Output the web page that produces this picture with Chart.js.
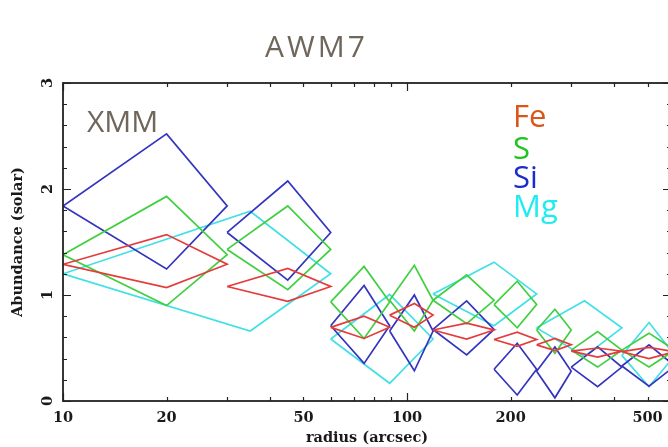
<!DOCTYPE html>
<html>
<head>
<meta charset="utf-8">
<title>AWM7 abundance profiles</title>
<script src="https://cdn.jsdelivr.net/npm/chart.js@4/dist/chart.umd.min.js"></script>
<style>
  html, body { margin: 0; padding: 0; background: #ffffff; overflow: hidden; }
  #wrap { width: 700px; height: 447px; }
</style>
</head>
<body>
<div id="wrap"><canvas id="chart" width="700" height="447"></canvas></div>
<script>
// Radial bins (arcsec) shared by Fe, S and Si
const binLo  = [10, 30, 60, 89, 119, 179, 238, 300, 421];
const binMid = [20, 45, 75, 105, 149, 209, 269, 358, 505];
const binHi  = [30, 60, 89, 119, 179, 238, 300, 421, 600];

// Abundances (solar) with lower / upper bounds
const feVal = [1.29, 1.08, 0.695, 0.81, 0.67, 0.58, 0.53, 0.47, 0.465];
const feLo  = [1.07, 0.94, 0.59, 0.695, 0.585, 0.515, 0.475, 0.415, 0.40];
const feHi  = [1.57, 1.25, 0.80, 0.92, 0.735, 0.65, 0.59, 0.50, 0.505];

const sVal = [1.38, 1.43, 0.935, 0.95, 0.95, 0.91, 0.67, 0.48, 0.48];
const sLo  = [0.90, 1.05, 0.59, 0.66, 0.73, 0.69, 0.45, 0.32, 0.32];
const sHi  = [1.93, 1.84, 1.27, 1.28, 1.19, 1.13, 0.865, 0.655, 0.64];

const siVal = [1.84, 1.59, 0.71, 0.66, 0.675, 0.30, 0.28, 0.32, 0.33];
const siLo  = [1.245, 1.14, 0.355, 0.285, 0.435, 0.057, 0.03, 0.135, 0.14];
const siHi  = [2.52, 2.075, 1.09, 1.0, 0.945, 0.545, 0.51, 0.51, 0.53];

// Mg uses wider bins
const mgBinLo  = [10, 60, 119, 238, 421];
const mgBinMid = [35, 89, 179, 328, 505];
const mgBinHi  = [60, 119, 238, 421, 600];
const mgVal = [1.20, 0.585, 1.01, 0.69, 0.43];
const mgLo  = [0.66, 0.167, 0.71, 0.42, 0.135];
const mgHi  = [1.79, 1.005, 1.31, 0.945, 0.74];

// Axis labelling
const xTickLabels = [10, 20, 50, 100, 200, 500];
const yTickLabels = [0, 1, 2, 3];
const legendNames = ['Fe', 'S', 'Si', 'Mg'];

// Each measurement is drawn as a diamond: (lo,x)-(mid,hi)-(hi,x)-(mid,lo)-(lo,x),
// consecutive diamonds separated by a null point so the line breaks.
function diamonds(lo, mid, hi, val, vLo, vHi) {
  const pts = [];
  for (let i = 0; i < val.length; i++) {
    pts.push({ x: lo[i],  y: val[i] });
    pts.push({ x: mid[i], y: vHi[i] });
    pts.push({ x: hi[i],  y: val[i] });
    pts.push({ x: mid[i], y: vLo[i] });
    pts.push({ x: lo[i],  y: val[i] });
    pts.push({ x: hi[i],  y: null });
  }
  return pts;
}

const lineColors = { Fe: '#e43c3c', S: '#40cf40', Si: '#3434bf', Mg: '#40e0e6' };
const textColors = { Fe: '#dc5418', S: '#1fc41f', Si: '#1a2dcb', Mg: '#1fecf2' };

function ds(name, data) {
  return {
    label: name,
    data: data,
    borderColor: lineColors[name],
    borderWidth: 1.7,
    pointRadius: 0,
    pointHoverRadius: 0,
    fill: false,
    tension: 0,
    spanGaps: false
  };
}

const serif = "'DejaVu Serif', 'Liberation Serif', serif";
const sans = "'Open Sans', 'Noto Sans', sans-serif";

// Frame, inward tick marks and text annotations
const framePlugin = {
  id: 'framePlugin',
  afterDraw(chart) {
    const ctx = chart.ctx;
    const area = chart.chartArea;
    const xs = chart.scales.x, ys = chart.scales.y;
    ctx.save();
    ctx.strokeStyle = '#222222';
    ctx.lineWidth = 1.8;
    ctx.strokeRect(area.left, area.top, area.right - area.left, area.bottom - area.top);

    ctx.lineWidth = 1.2;
    ctx.beginPath();
    // x ticks: every integer multiple inside each decade
    for (let dec = 10; dec <= 100; dec *= 10) {
      for (let m = 1; m <= 9; m++) {
        const v = dec * m;
        if (v < xs.min || v > xs.max) continue;
        const px = Math.round(xs.getPixelForValue(v)) + 0.5;
        const len = m === 1 ? 8 : 4;
        ctx.moveTo(px, area.bottom); ctx.lineTo(px, area.bottom - len);
        ctx.moveTo(px, area.top); ctx.lineTo(px, area.top + len);
      }
    }
    // y ticks: minor every 0.2, major on integers
    for (let k = 0; k <= 15; k++) {
      const v = k * 0.2;
      const py = Math.round(ys.getPixelForValue(v)) + 0.5;
      const len = k % 5 === 0 ? 8 : 4;
      ctx.moveTo(area.left, py); ctx.lineTo(area.left + len, py);
      ctx.moveTo(area.right, py); ctx.lineTo(area.right - len, py);
    }
    ctx.stroke();

    // Title and instrument label
    ctx.fillStyle = '#6f665c';
    ctx.font = '30px ' + sans;
    ctx.textBaseline = 'alphabetic';
    ctx.textAlign = 'left';
    ctx.letterSpacing = '3px';
    ctx.fillText('AWM7', 265, 57);
    ctx.letterSpacing = '0px';
    ctx.fillText('XMM', 87, 132);

    // Element key
    ctx.font = '31px ' + sans;
    const baselines = [127, 159, 188, 217];
    legendNames.forEach((n, i) => {
      ctx.fillStyle = textColors[n];
      ctx.fillText(n, 513, baselines[i]);
    });
    ctx.restore();
  }
};

new Chart(document.getElementById('chart'), {
  type: 'line',
  data: {
    datasets: [
      ds('Fe', diamonds(binLo, binMid, binHi, feVal, feLo, feHi)),
      ds('S',  diamonds(binLo, binMid, binHi, sVal, sLo, sHi)),
      ds('Si', diamonds(binLo, binMid, binHi, siVal, siLo, siHi)),
      ds('Mg', diamonds(mgBinLo, mgBinMid, mgBinHi, mgVal, mgLo, mgHi))
    ]
  },
  options: {
    responsive: false,
    animation: false,
    events: [],
    layout: { padding: { left: 0, top: 83, right: 29, bottom: 0 } },
    plugins: {
      legend: { display: false },
      title: { display: false },
      tooltip: { enabled: false }
    },
    scales: {
      x: {
        type: 'logarithmic',
        min: 10,
        max: 585,
        grid: { display: false, drawTicks: false },
        border: { display: false },
        afterBuildTicks(scale) {
          scale.ticks = xTickLabels.map(v => ({ value: v }));
        },
        afterFit(scale) { scale.height = 46; },
        ticks: {
          autoSkip: false,
          maxRotation: 0,
          minRotation: 0,
          padding: 9,
          color: '#1a1a1a',
          font: { family: serif, size: 14.5, weight: 'bold' },
          callback: (v) => String(v)
        },
        title: {
          display: true,
          text: 'radius (arcsec)',
          color: '#1a1a1a',
          font: { family: serif, size: 14.5, weight: 'bold' },
          padding: { top: 0, bottom: 0 }
        }
      },
      y: {
        type: 'linear',
        min: 0,
        max: 3,
        grid: { display: false, drawTicks: false },
        border: { display: false },
        afterBuildTicks(scale) {
          scale.ticks = yTickLabels.map(v => ({ value: v }));
        },
        afterFit(scale) { scale.width = 63; },
        ticks: {
          minRotation: 90,
          maxRotation: 90,
          crossAlign: 'center',
          padding: 10,
          color: '#1a1a1a',
          font: { family: serif, size: 14.5, weight: 'bold' },
          callback: (v) => String(v)
        },
        title: {
          display: true,
          text: 'Abundance (solar)',
          color: '#1a1a1a',
          font: { family: serif, size: 14.5, weight: 'bold' },
          padding: { top: 10, bottom: 0 }
        }
      }
    }
  },
  plugins: [framePlugin]
});
</script>
</body>
</html>
